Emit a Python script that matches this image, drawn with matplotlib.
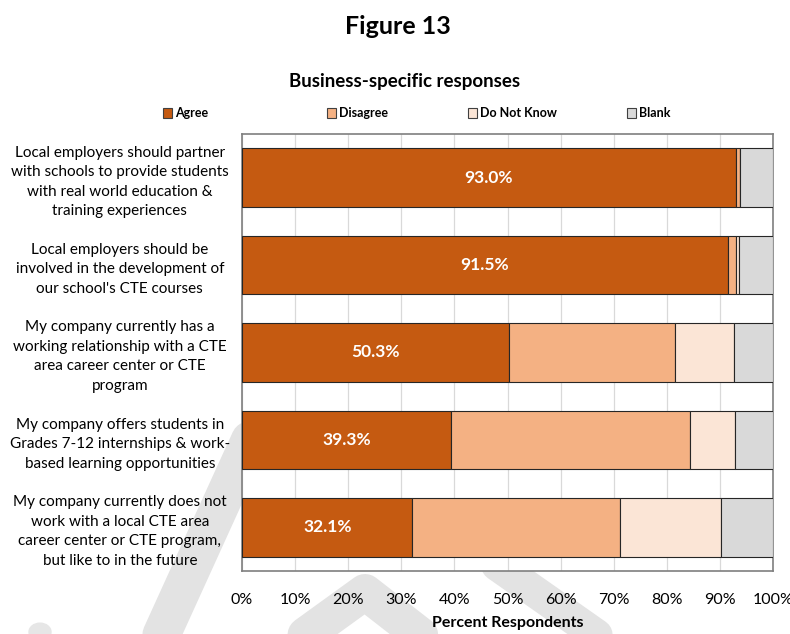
import matplotlib.pyplot as plt
from matplotlib.patches import Rectangle, Circle
from matplotlib.lines import Line2D

plt.rcParams['font.family'] = ['Lato', 'DejaVu Sans']

# survey statements, top to bottom
statements = [
    "Local employers should partner\nwith schools to provide students\nwith real world education &\ntraining experiences",
    "Local employers should be\ninvolved in the development of\nour school's CTE courses",
    "My company currently has a\nworking relationship with a CTE\narea career center or CTE\nprogram",
    "My company offers students in\nGrades 7-12 internships & work-\nbased learning opportunities",
    "My company currently does not\nwork with a local CTE area\ncareer center or CTE program,\nbut like to in the future",
]

# percent of respondents per answer
agree = [93.0, 91.5, 50.3, 39.3, 32.1]
disagree = [0.7, 1.6, 31.3, 45.0, 39.1]
do_not_know = [0.0, 0.5, 11.1, 8.5, 19.0]
blank = [6.3, 6.4, 7.3, 7.2, 9.8]

series = [("Agree", agree, "#C55A11"),
          ("Disagree", disagree, "#F4B183"),
          ("Do Not Know", do_not_know, "#FBE5D6"),
          ("Blank", blank, "#D9D9D9")]

W, H = 790, 634
fig = plt.figure(figsize=(W / 100, H / 100), dpi=100)

# faint diagonal watermark strokes behind the chart (pixel coords, y down)
def stroke(pts, width_px):
    xs = [p[0] / W for p in pts]
    ys = [1 - p[1] / H for p in pts]
    fig.add_artist(Line2D(xs, ys, transform=fig.transFigure, color="#E3E3E3",
                          lw=width_px * 0.72, solid_capstyle="round",
                          solid_joinstyle="round", zorder=-5))

stroke([(150, 660), (250, 440)], 38)
stroke([(282, 652), (365, 592), (442, 652)], 36)
stroke([(497, 565), (618, 650)], 32)
fig.add_artist(Circle((40 / W, 1 - 632 / H), 11 / W, transform=fig.transFigure,
                      color="#E6E6E6", zorder=-5))

ax = fig.add_axes([242 / W, 1 - 571 / H, 531 / W, 437 / H])
ax.set_facecolor("white")

y = list(range(len(statements)))
left = [0.0] * len(statements)
for name, vals, col in series:
    ax.barh(y, vals, left=left, height=0.67, color=col, edgecolor="#262626",
            linewidth=0.8, label=name, zorder=3)
    left = [l + v for l, v in zip(left, vals)]

# value labels inside the Agree segment
for yi, v in zip(y, agree):
    ax.text(v / 2, yi, f"{v:.1f}%", ha="center", va="center", color="white",
            fontsize=12.5, fontweight="bold", zorder=4)

ax.set_xlim(0, 100)
ax.set_ylim(len(statements) - 0.5, -0.5)
ax.set_xticks(range(0, 101, 10))
ax.set_xticklabels([f"{t}%" for t in range(0, 101, 10)], fontsize=11.5)
ax.set_yticks(y)
ax.set_yticklabels(statements, fontsize=11, ha="center", linespacing=1.5)
ax.tick_params(axis="y", length=0, pad=88)
ax.tick_params(axis="x", length=0, pad=16)
ax.grid(axis="x", color="#D9D9D9", linewidth=0.9, zorder=0)
for s in ax.spines.values():
    s.set_color("#7F7F7F")
    s.set_linewidth(1.2)

ax.set_xlabel("Percent Respondents", fontsize=11.5, fontweight="bold", labelpad=6)

fig.text(398 / W, 1 - 26 / H, "Figure 13", ha="center", va="center",
         fontsize=18, fontweight="bold")
fig.text(405 / W, 1 - 82 / H, "Business-specific responses", ha="center",
         va="center", fontsize=13.5, fontweight="bold")

# legend row: square swatch followed by bold label
legend_x = [163, 327, 468, 627]
swatch = 9
for (name, _, col), lx in zip(series, legend_x):
    fig.add_artist(Rectangle((lx / W, 1 - (113 + swatch / 2) / H), swatch / W,
                             swatch / H, transform=fig.transFigure,
                             facecolor=col, edgecolor="#404040", linewidth=0.8))
    fig.text((lx + swatch + 3) / W, 1 - 113 / H, name, ha="left", va="center",
             fontsize=9, fontweight="bold")

fig.savefig("out.png", dpi=100)
